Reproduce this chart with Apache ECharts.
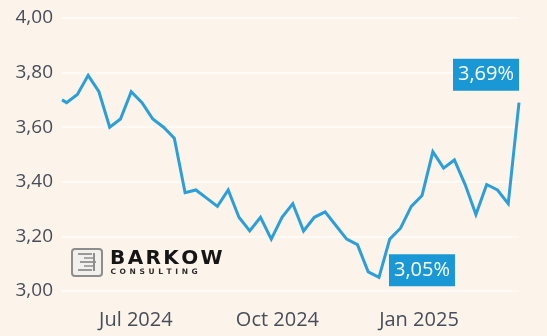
<!DOCTYPE html>
<html>
<head>
<meta charset="utf-8">
<script src="https://cdn.jsdelivr.net/npm/echarts@6/dist/echarts.min.js"></script>
<style>
  html, body { margin: 0; padding: 0; background: #fcf3eb; }
  #chart { width: 547px; height: 336px; }
</style>
</head>
<body>
<div id="chart"></div>
<script>
// Weekly yield observations (percent)
const dates = [
  '2024-05-14', '2024-05-17', '2024-05-24', '2024-05-31', '2024-06-07', '2024-06-14',
  '2024-06-21', '2024-06-28', '2024-07-05', '2024-07-12', '2024-07-19', '2024-07-26',
  '2024-08-02', '2024-08-09', '2024-08-16', '2024-08-23', '2024-08-30', '2024-09-06',
  '2024-09-13', '2024-09-20', '2024-09-27', '2024-10-04', '2024-10-11', '2024-10-18',
  '2024-10-25', '2024-11-01', '2024-11-08', '2024-11-15', '2024-11-22', '2024-11-29',
  '2024-12-06', '2024-12-13', '2024-12-20', '2024-12-27', '2025-01-03', '2025-01-10',
  '2025-01-17', '2025-01-24', '2025-01-31', '2025-02-07', '2025-02-14', '2025-02-21',
  '2025-02-28', '2025-03-07'
];
const yields = [
  3.70, 3.69, 3.72, 3.79, 3.73, 3.60,
  3.63, 3.73, 3.69, 3.63, 3.60, 3.56,
  3.36, 3.37, 3.34, 3.31, 3.37, 3.27,
  3.22, 3.27, 3.19, 3.27, 3.32, 3.22,
  3.27, 3.29, 3.24, 3.19, 3.17, 3.07,
  3.05, 3.19, 3.23, 3.31, 3.35, 3.51,
  3.45, 3.48, 3.39, 3.28, 3.39, 3.37,
  3.32, 3.69
];
// Month ticks shown on the date axis
const monthTicks = ['2024-07-01', '2024-10-01', '2025-01-01'];
const monthNames = ['Jan', 'Feb', 'Mar', 'Apr', 'May', 'Jun', 'Jul', 'Aug', 'Sep', 'Oct', 'Nov', 'Dec'];

const LINE_BLUE = '#2a9fd9';
const BOX_BLUE = '#1a98d6';
const AXIS_TEXT = '#474d59';
const FONT = '"Open Sans", sans-serif';

function toTime(s) {
  const p = s.split('-').map(Number);
  return new Date(p[0], p[1] - 1, p[2]).getTime();
}
function pct(v) {
  return v.toFixed(2).replace('.', ',') + '%';
}

const lineData = dates.map((d, i) => [toTime(d), yields[i]]);
const minIdx = yields.indexOf(Math.min.apply(null, yields));
const lastIdx = yields.length - 1;

// Letter-spaced text for the logo wordmark
const measureCtx = document.createElement('canvas').getContext('2d');
function spacedText(str, x, y, font, spacing, color) {
  measureCtx.font = font;
  const out = [];
  let cx = x;
  for (const ch of str) {
    out.push({
      type: 'text', x: cx, y: y, silent: true,
      style: { text: ch, font: font, fill: color, textVerticalAlign: 'middle' }
    });
    cx += measureCtx.measureText(ch).width + spacing;
  }
  return out;
}

// Logo icon: framed stack of bars forming a stylised "3"
const iconParts = [
  { type: 'rect', shape: { x: 72, y: 249, width: 30, height: 27, r: 3 },
    style: { fill: '#f3efec', stroke: '#8d8d8d', lineWidth: 2 } },
  { type: 'rect', shape: { x: 78, y: 253, width: 14, height: 2 }, style: { fill: '#9a9a9a' } },
  { type: 'rect', shape: { x: 84, y: 257, width: 10, height: 2 }, style: { fill: '#a8a8a8' } },
  { type: 'rect', shape: { x: 80, y: 261, width: 16, height: 2 }, style: { fill: '#9a9a9a' } },
  { type: 'rect', shape: { x: 84, y: 265, width: 10, height: 2 }, style: { fill: '#a8a8a8' } },
  { type: 'rect', shape: { x: 78, y: 269, width: 14, height: 2 }, style: { fill: '#9a9a9a' } },
  { type: 'rect', shape: { x: 93, y: 253, width: 2, height: 18 }, style: { fill: '#8d8d8d' } }
];

const chart = echarts.init(document.getElementById('chart'), null, { renderer: 'canvas' });
chart.setOption({
  backgroundColor: '#fcf3eb',
  animation: false,
  grid: { left: 62, right: 28, top: 18, bottom: 45 },
  xAxis: {
    type: 'value',
    min: toTime(dates[0]),
    max: toTime(dates[lastIdx]),
    scale: true,
    axisLine: { show: false },
    axisTick: { show: false },
    splitLine: { show: false },
    axisLabel: {
      customValues: monthTicks.map(toTime),
      formatter: function (v) {
        const d = new Date(v);
        return monthNames[d.getMonth()] + ' ' + d.getFullYear();
      },
      color: AXIS_TEXT,
      fontFamily: FONT,
      fontSize: 20,
      margin: 19,
      hideOverlap: false
    }
  },
  yAxis: {
    type: 'value',
    min: 3,
    max: 4,
    interval: 0.2,
    axisLine: { show: false },
    axisTick: { show: false },
    splitLine: { show: true, lineStyle: { color: '#fffaf6', width: 2 } },
    axisLabel: {
      formatter: v => v.toFixed(2).replace('.', ','),
      color: AXIS_TEXT,
      fontFamily: FONT,
      fontSize: 19,
      margin: 9
    }
  },
  graphic: [
    { type: 'group', silent: true, children: iconParts },
    { type: 'group', silent: true, children: spacedText('BARKOW', 110, 259, 'bold 20px "DejaVu Sans"', 2.4, '#151515') },
    { type: 'group', silent: true, children: spacedText('CONSULTING', 110.5, 272.5, 'bold 7.5px "DejaVu Sans"', 3.6, '#2e2e2e') }
  ],
  series: [
    {
      type: 'line',
      data: lineData,
      showSymbol: false,
      silent: true,
      lineStyle: { color: LINE_BLUE, width: 3, join: 'miter' },
      z: 3
    },
    {
      type: 'scatter',
      silent: true,
      symbolSize: 1,
      itemStyle: { color: 'rgba(0,0,0,0)', opacity: 1 },
      z: 5,
      data: [
        {
          value: lineData[minIdx],
          label: { offset: [43, -7] }
        },
        {
          value: lineData[lastIdx],
          label: { offset: [-33, -28] }
        }
      ],
      label: {
        show: true,
        position: 'inside',
        formatter: p => pct(p.value[1]),
        color: '#ffffff',
        opacity: 1,
        fontFamily: FONT,
        fontSize: 20,
        lineHeight: 21,
        backgroundColor: BOX_BLUE,
        padding: [6, 5, 5, 5]
      }
    }
  ]
});
</script>
</body>
</html>
